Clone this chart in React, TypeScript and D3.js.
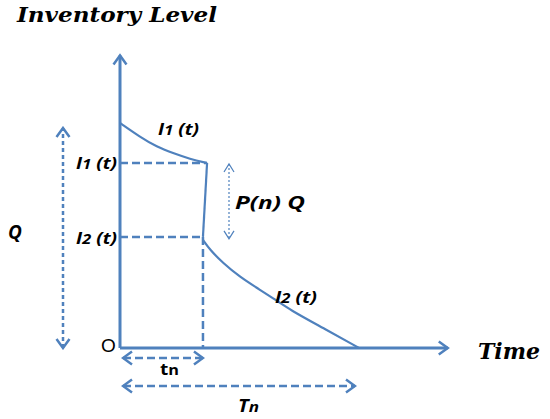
import * as d3 from "d3"

// inventory curve readings (time units, level units where Q = 10)
const i1Time = [0, 0.59, 1.08, 1.55, 2.05, 2.55]
const i1Level = [10.23, 9.59, 9.14, 8.86, 8.59, 8.41]
const dropTime = [2.55, 2.43]
const dropLevel = [8.41, 5.05]
const i2Time = [2.43, 2.64, 3.02, 3.51, 4.01, 4.48, 4.98, 5.95, 7]
const i2Level = [4.91, 4.45, 3.86, 3.23, 2.73, 2.27, 1.73, 0.91, 0]

const tn = 2.43
const Tn = 7
const Q = 10
const timeMax = 9.6
const levelMax = 13.3

const blue = "#4f81bd"
const labelFont = "'Open Sans', sans-serif"
const titleFont = "'DejaVu Serif', serif"

const x = d3.scaleLinear().domain([0, Tn]).range([120, 359])
const y = d3.scaleLinear().domain([0, Q]).range([348, 128])

const line = d3
  .line<[number, number]>()
  .x((d) => x(d[0]))
  .y((d) => y(d[1]))
  .curve(d3.curveBasis)

const straight = d3
  .line<[number, number]>()
  .x((d) => x(d[0]))
  .y((d) => y(d[1]))

const zip = (a: number[], b: number[]) =>
  a.map((v, i) => [v, b[i]] as [number, number])

const Sub = ({ base, sub, italicSub = true }) => (
  <>
    {base}
    <tspan fontSize="0.85em" fontStyle={italicSub ? "italic" : "normal"}>
      {sub}
    </tspan>
  </>
)

export default function App() {
  const i1End = dropLevel[0]
  const i2Start = dropLevel[1]
  return (
    <svg
      width={550}
      height={419}
      viewBox="0 0 550 419"
      style={{ position: "absolute", left: 0, top: 0, background: "#fff" }}
    >
      <defs>
        <marker
          id="arrow"
          viewBox="-12 -8 14 16"
          refX={0}
          refY={0}
          markerWidth={14}
          markerHeight={16}
          markerUnits="userSpaceOnUse"
          orient="auto-start-reverse"
        >
          <path
            d="M-9,-6.5L0,0L-9,6.5"
            fill="none"
            stroke={blue}
            strokeWidth={2.5}
            strokeDasharray="none"
          />
        </marker>
        <marker
          id="arrowThin"
          viewBox="-12 -8 14 16"
          refX={0}
          refY={0}
          markerWidth={14}
          markerHeight={16}
          markerUnits="userSpaceOnUse"
          orient="auto-start-reverse"
        >
          <path
            d="M-8,-5L0,0L-8,5"
            fill="none"
            stroke={blue}
            strokeWidth={1.2}
            strokeDasharray="none"
          />
        </marker>
      </defs>

      {/* axes */}
      <line
        x1={x(0)}
        y1={y(0)}
        x2={x(0)}
        y2={y(levelMax)}
        stroke={blue}
        strokeWidth={3}
        markerEnd="url(#arrow)"
      />
      <line
        x1={x(0)}
        y1={y(0)}
        x2={x(timeMax)}
        y2={y(0)}
        stroke={blue}
        strokeWidth={3}
        markerEnd="url(#arrow)"
      />

      {/* dashed guides */}
      <g stroke={blue} strokeWidth={2.5} strokeDasharray="8 4" fill="none">
        <line x1={x(0)} y1={y(i1End)} x2={x(dropTime[0])} y2={y(i1End)} />
        <line x1={x(0)} y1={y(i2Start)} x2={x(tn)} y2={y(i2Start)} />
        <line x1={x(tn)} y1={y(i2Start)} x2={x(tn)} y2={y(0)} />
        <line
          x1={x(0) + 3}
          y1={358}
          x2={x(tn)}
          y2={358}
          markerStart="url(#arrow)"
          markerEnd="url(#arrow)"
        />
        <line
          x1={x(0) + 3}
          y1={386}
          x2={x(Tn) - 4}
          y2={386}
          markerStart="url(#arrow)"
          markerEnd="url(#arrow)"
        />
      </g>

      {/* Q span */}
      <line
        x1={63}
        y1={y(0)}
        x2={63}
        y2={y(Q)}
        stroke={blue}
        strokeWidth={2.5}
        strokeDasharray="4 3"
        markerStart="url(#arrow)"
        markerEnd="url(#arrow)"
      />

      {/* P(n) Q span */}
      <line
        x1={229}
        y1={y(i1End) + 1}
        x2={229}
        y2={y(i2Start) + 2}
        stroke={blue}
        strokeWidth={1.2}
        strokeDasharray="2 2"
        markerStart="url(#arrowThin)"
        markerEnd="url(#arrowThin)"
      />

      {/* inventory curves */}
      <g stroke={blue} strokeWidth={2.2} fill="none">
        <path d={line(zip(i1Time, i1Level)) ?? ""} />
        <path d={straight(zip(dropTime, dropLevel)) ?? ""} />
        <path d={line(zip(i2Time, i2Level)) ?? ""} />
      </g>

      {/* text */}
      <text
        x={17}
        y={22}
        fontFamily={titleFont}
        fontWeight="bold"
        fontStyle="italic"
        fontSize={20}
        textLength={200}
        lengthAdjust="spacingAndGlyphs"
      >
        Inventory Level
      </text>
      <text
        x={478}
        y={359}
        fontFamily={titleFont}
        fontWeight="bold"
        fontStyle="italic"
        fontSize={22}
        textLength={62}
        lengthAdjust="spacingAndGlyphs"
      >
        Time
      </text>

      <g fontFamily={labelFont} fontWeight="bold" fontStyle="italic" fontSize={16}>
        <text x={158} y={135} textLength={41} lengthAdjust="spacingAndGlyphs">
          <Sub base="I" sub="1" />
          {" (t)"}
        </text>
        <text
          x={76}
          y={y(i1End) + 6}
          textLength={41}
          lengthAdjust="spacingAndGlyphs"
        >
          <Sub base="I" sub="1" />
          {" (t)"}
        </text>
        <text
          x={76}
          y={y(i2Start) + 7}
          textLength={41}
          lengthAdjust="spacingAndGlyphs"
        >
          <Sub base="I" sub="2" />
          {" (t)"}
        </text>
        <text x={275} y={303} textLength={42} lengthAdjust="spacingAndGlyphs">
          <Sub base="I" sub="2" />
          {" (t)"}
        </text>
        <text x={235} y={209} fontSize={17} textLength={70} lengthAdjust="spacingAndGlyphs">
          P(n) Q
        </text>
        <text x={8} y={239} fontSize={19}>
          Q
        </text>
        <text x={238} y={412} fontSize={17} textLength={21} lengthAdjust="spacingAndGlyphs">
          <Sub base="T" sub="n" />
        </text>
        <text
          x={160}
          y={375}
          fontStyle="normal"
          fontSize={16}
          textLength={19}
          lengthAdjust="spacingAndGlyphs"
        >
          <Sub base="t" sub="n" italicSub={false} />
        </text>
      </g>
      <text x={101} y={352} fontFamily="'Liberation Sans', sans-serif" fontSize={19}>
        O
      </text>
    </svg>
  )
}
